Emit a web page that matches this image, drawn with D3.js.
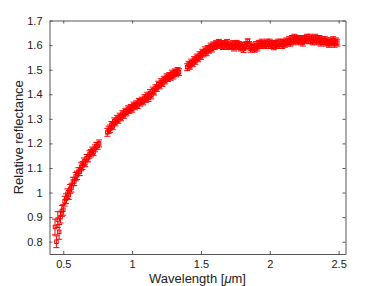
<!DOCTYPE html>
<html>
<head>
<meta charset="utf-8">
<script src="https://cdn.jsdelivr.net/npm/d3@7"></script>
<style>
  body { margin: 0; background: #fff; }
  svg { display: block; font-family: "Liberation Sans", Arial, Helvetica, sans-serif; }
</style>
</head>
<body>
<div id="chart"></div>
<script>
// wavelength in micrometres
const wavelength = [
  0.44, 0.45, 0.46, 0.47, 0.48, 0.49, 0.50, 0.51, 0.52, 0.53, 0.54, 0.55, 0.56, 0.57, 0.58, 0.59,
  0.60, 0.61, 0.62, 0.63, 0.64, 0.65, 0.66, 0.67, 0.68, 0.69, 0.70, 0.71, 0.72, 0.73, 0.74, 0.75, 0.76,
  0.82, 0.83, 0.84, 0.85, 0.86, 0.87, 0.88, 0.89, 0.90, 0.91, 0.92, 0.93, 0.94, 0.95, 0.96, 0.97,
  0.98, 0.99, 1.00, 1.01, 1.02, 1.03, 1.04, 1.05, 1.06, 1.07, 1.08, 1.09, 1.10, 1.11, 1.12, 1.13,
  1.14, 1.15, 1.16, 1.17, 1.18, 1.19, 1.20, 1.21, 1.22, 1.23, 1.24, 1.25, 1.26, 1.27, 1.28, 1.29,
  1.30, 1.31, 1.32, 1.33, 1.34,
  1.40, 1.41, 1.42, 1.43, 1.44, 1.45, 1.46, 1.47, 1.48, 1.49, 1.50, 1.51, 1.52, 1.53, 1.54, 1.55,
  1.56, 1.57, 1.58, 1.59, 1.60, 1.61, 1.62, 1.63, 1.64, 1.65, 1.66, 1.67, 1.68, 1.69, 1.70, 1.71,
  1.72, 1.73, 1.74, 1.75, 1.76, 1.77, 1.78, 1.79, 1.80, 1.81, 1.82, 1.83, 1.84, 1.85, 1.86, 1.87,
  1.88, 1.89, 1.90, 1.91, 1.92, 1.93, 1.94, 1.95, 1.96, 1.97, 1.98, 1.99, 2.00, 2.01, 2.02, 2.03,
  2.04, 2.05, 2.06, 2.07, 2.08, 2.09, 2.10, 2.11, 2.12, 2.13, 2.14, 2.15, 2.16, 2.17, 2.18, 2.19,
  2.20, 2.21, 2.22, 2.23, 2.24, 2.25, 2.26, 2.27, 2.28, 2.29, 2.30, 2.31, 2.32, 2.33, 2.34, 2.35,
  2.36, 2.37, 2.38, 2.39, 2.40, 2.41, 2.42, 2.43, 2.44, 2.45, 2.46, 2.47, 2.48, 2.49
];

const reflectance = [
  0.86, 0.80, 0.89, 0.84, 0.90, 0.925, 0.93, 0.965, 0.975, 0.995, 0.99, 1.015, 1.02, 1.045, 1.045, 1.065,
  1.07, 1.085, 1.085, 1.105, 1.11, 1.125, 1.12, 1.14, 1.14, 1.155, 1.16, 1.17, 1.165, 1.18, 1.19, 1.19, 1.20,
  1.245, 1.255, 1.26, 1.275, 1.27, 1.29, 1.285, 1.30, 1.295, 1.31, 1.305, 1.32, 1.315, 1.33, 1.325, 1.34,
  1.335, 1.345, 1.34, 1.355, 1.35, 1.36, 1.355, 1.37, 1.365, 1.375, 1.37, 1.385, 1.38, 1.395, 1.385, 1.405,
  1.395, 1.415, 1.41, 1.425, 1.425, 1.44, 1.435, 1.45, 1.445, 1.46, 1.455, 1.47, 1.465, 1.475, 1.47, 1.485,
  1.475, 1.49, 1.485, 1.495, 1.49,
  1.51, 1.52, 1.515, 1.53, 1.525, 1.54, 1.535, 1.55, 1.545, 1.56, 1.555, 1.57, 1.565, 1.58, 1.57, 1.585,
  1.58, 1.595, 1.585, 1.60, 1.595, 1.605, 1.60, 1.61, 1.60, 1.605, 1.595, 1.605, 1.60, 1.61, 1.595, 1.60,
  1.595, 1.605, 1.59, 1.60, 1.605, 1.595, 1.60, 1.59, 1.595, 1.585, 1.595, 1.60, 1.617, 1.60, 1.585, 1.595,
  1.59, 1.585, 1.60, 1.59, 1.605, 1.60, 1.61, 1.60, 1.605, 1.60, 1.61, 1.60, 1.61, 1.60, 1.605, 1.595,
  1.605, 1.60, 1.61, 1.60, 1.61, 1.60, 1.61, 1.605, 1.615, 1.61, 1.62, 1.61, 1.625, 1.615, 1.63, 1.62,
  1.625, 1.615, 1.625, 1.62, 1.61, 1.625, 1.62, 1.63, 1.62, 1.63, 1.62, 1.615, 1.625, 1.63, 1.615, 1.62,
  1.625, 1.61, 1.62, 1.615, 1.62, 1.61, 1.615, 1.605, 1.615, 1.61, 1.62, 1.605, 1.615, 1.61
];

const error = [
  0.032, 0.024, 0.032, 0.030, 0.024, 0.022, 0.022, 0.020, 0.020, 0.020, 0.018, 0.018, 0.018, 0.017, 0.017, 0.017,
  0.017, 0.016, 0.016, 0.016, 0.016, 0.016, 0.015, 0.015, 0.015, 0.015, 0.015, 0.015, 0.015, 0.014, 0.014, 0.014, 0.014,
  0.016, 0.015, 0.015, 0.014, 0.014, 0.014, 0.014, 0.014, 0.013, 0.013, 0.013, 0.013, 0.013, 0.013, 0.013, 0.013,
  0.013, 0.013, 0.013, 0.013, 0.013, 0.013, 0.013, 0.013, 0.013, 0.013, 0.013, 0.013, 0.013, 0.013, 0.014, 0.014,
  0.014, 0.014, 0.013, 0.013, 0.013, 0.013, 0.013, 0.013, 0.013, 0.013, 0.013, 0.013, 0.013, 0.013, 0.013, 0.013,
  0.013, 0.013, 0.014, 0.014, 0.014,
  0.014, 0.014, 0.013, 0.013, 0.013, 0.013, 0.013, 0.013, 0.013, 0.013, 0.013, 0.013, 0.013, 0.013, 0.013, 0.013,
  0.013, 0.013, 0.013, 0.013, 0.013, 0.013, 0.013, 0.013, 0.013, 0.013, 0.013, 0.013, 0.013, 0.013, 0.013, 0.013,
  0.013, 0.013, 0.014, 0.014, 0.014, 0.014, 0.014, 0.014, 0.015, 0.015, 0.014, 0.014, 0.008, 0.014, 0.014, 0.014,
  0.014, 0.014, 0.014, 0.014, 0.014, 0.014, 0.014, 0.014, 0.014, 0.014, 0.014, 0.014, 0.014, 0.014, 0.014, 0.014,
  0.014, 0.014, 0.014, 0.014, 0.014, 0.014, 0.014, 0.014, 0.014, 0.014, 0.014, 0.014, 0.014, 0.014, 0.014, 0.014,
  0.014, 0.014, 0.014, 0.014, 0.014, 0.014, 0.014, 0.014, 0.014, 0.014, 0.014, 0.014, 0.014, 0.014, 0.014, 0.014,
  0.014, 0.014, 0.014, 0.014, 0.014, 0.014, 0.014, 0.014, 0.014, 0.014, 0.014, 0.014, 0.014, 0.014
];

const xTicks = [0.5, 1, 1.5, 2, 2.5];
const yTicks = [0.8, 0.9, 1, 1.1, 1.2, 1.3, 1.4, 1.5, 1.6, 1.7];

const width = 382, height = 286;
const margin = { top: 20.5, right: 36.5, bottom: 32, left: 49.5 };

const data = wavelength.map((w, i) => ({ x: w, y: reflectance[i], e: error[i] }));

const svg = d3.select("#chart").append("svg")
  .attr("width", width)
  .attr("height", height);

const x = d3.scaleLinear().domain([0.4, 2.55]).range([margin.left, width - margin.right]);
const y = d3.scaleLinear().domain([0.75, 1.7]).range([height - margin.bottom, margin.top]);

const axisColor = "#555";
const tickLen = 3;

// error bars
const bars = svg.append("g")
  .attr("stroke", "#ff0000")
  .attr("stroke-width", 1)
  .attr("fill", "none");

const cap = 3;
bars.selectAll("path.err")
  .data(data)
  .enter().append("path")
  .attr("class", "err")
  .attr("d", d => {
    const cx = x(d.x), y1 = y(d.y - d.e), y2 = y(d.y + d.e);
    return `M${cx},${y1}V${y2}M${cx - cap},${y1}H${cx + cap}M${cx - cap},${y2}H${cx + cap}`;
  });

bars.selectAll("rect.mk")
  .data(data)
  .enter().append("rect")
  .attr("class", "mk")
  .attr("x", d => x(d.x) - 1.75)
  .attr("y", d => y(d.y) - 1.75)
  .attr("width", 3.5)
  .attr("height", 3.5);

// axes box with inward ticks
const xAxisB = d3.axisBottom(x).tickValues(xTicks).tickSizeInner(-tickLen).tickSizeOuter(0)
  .tickPadding(6).tickFormat(d3.format("~g"));
const xAxisT = d3.axisTop(x).tickValues(xTicks).tickSizeInner(-tickLen).tickSizeOuter(0).tickFormat("");
const yAxisL = d3.axisLeft(y).tickValues(yTicks).tickSizeInner(-tickLen).tickSizeOuter(0)
  .tickPadding(7).tickFormat(d3.format("~g"));
const yAxisR = d3.axisRight(y).tickValues(yTicks).tickSizeInner(-tickLen).tickSizeOuter(0).tickFormat("");

function style(g) {
  g.selectAll(".domain").attr("stroke", axisColor);
  g.selectAll(".tick line").attr("stroke", axisColor);
  g.selectAll(".tick text").attr("fill", "#222").attr("font-size", 11)
    .attr("font-family", "Liberation Sans, Arial, sans-serif");
}

svg.append("g").attr("transform", `translate(0,${height - margin.bottom})`).call(xAxisB).call(style);
svg.append("g").attr("transform", `translate(0,${margin.top})`).call(xAxisT).call(style);
svg.append("g").attr("transform", `translate(${margin.left},0)`).call(yAxisL).call(style);
svg.append("g").attr("transform", `translate(${width - margin.right},0)`).call(yAxisR).call(style);

// labels
const xl = svg.append("text")
  .attr("x", (margin.left + width - margin.right) / 2)
  .attr("y", 282.5)
  .attr("text-anchor", "middle")
  .attr("font-size", 13)
  .attr("fill", "#222");
xl.append("tspan").text("Wavelength [");
xl.append("tspan").attr("font-style", "italic").text("μ");
xl.append("tspan").text("m]");

svg.append("text")
  .attr("transform", `translate(22.5,${(margin.top + height - margin.bottom) / 2}) rotate(-90)`)
  .attr("text-anchor", "middle")
  .attr("font-size", 13)
  .attr("fill", "#222")
  .text("Relative reflectance");
</script>
</body>
</html>
